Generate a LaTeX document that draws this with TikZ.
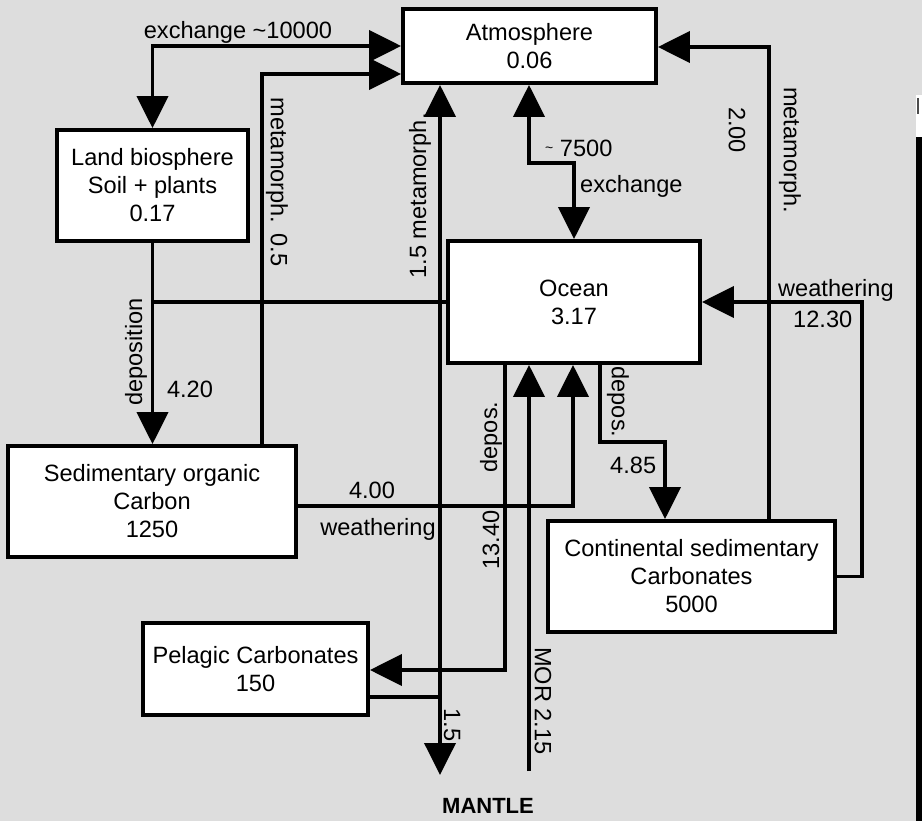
\documentclass[tikz,border=0pt]{standalone}
\usepackage{fontspec}
\setmainfont{Liberation Sans}
\usetikzlibrary{arrows.meta}
\begin{document}
\begin{tikzpicture}[x=1pt,y=-1pt,
  font=\fontsize{23.6}{28}\selectfont,
  box/.style={draw, fill=white, line width=3.8pt, align=center, inner sep=0pt},
  conn/.style={line width=3.8pt},
  arr/.style={conn, -{Triangle[length=32pt,width=31pt]}},
  both/.style={conn, {Triangle[length=32pt,width=31pt]}-{Triangle[length=32pt,width=31pt]}},
  lbl/.style={inner sep=0pt},
  up/.style={lbl, rotate=90},
  down/.style={lbl, rotate=-90}]
% background and frame artefacts
\fill[fill={rgb,255:red,221;green,221;blue,221}] (0,0) rectangle (922,821);
\useasboundingbox (0,0) rectangle (922,821);
\fill[white] (916,95) rectangle (922,137);
\fill[black!70] (917,98) rectangle (919,114);
\fill[black] (916,137) rectangle (922,821);

% boxes
\node[box, minimum width=253pt, minimum height=74pt] (atm) at (529.5,46) {Atmosphere\\0.06};
\node[box, minimum width=191pt, minimum height=111pt] (land) at (152.5,185.5) {Land biosphere\\Soil + plants\\0.17};
\node[box, minimum width=252pt, minimum height=122pt] (ocean) at (574,302) {Ocean\\3.17};
\node[box, minimum width=288pt, minimum height=111pt] (sed) at (152,501.5) {Sedimentary organic\\Carbon\\1250};
\node[box, minimum width=287pt, minimum height=111pt] (cont) at (691.5,576.5) {Continental sedimentary\\Carbonates\\5000};
\node[box, minimum width=225pt, minimum height=92pt] (pel) at (255.5,669) {Pelagic Carbonates\\150};

% bend points
\coordinate (c2) at (262,74);
\coordinate (c4) at (573,506);
\coordinate (c5) at (505,670);
\coordinate (c6) at (529,771);
\coordinate (c7a) at (529,163);
\coordinate (c7b) at (574,163);
\coordinate (c8) at (769,47);
\coordinate (c9a) at (862,576.5);
\coordinate (c9b) at (862,302);
\coordinate (c10a) at (600,442);
\coordinate (c10b) at (665,442);
\coordinate (c12) at (440,697);
\coordinate (c11) at (440,775);

% connectors
\draw[both] (land.north) |- (atm.west);
\draw[arr] (sed.north -| c2) |- (atm.west |- c2);
\draw[arr] (land.south) -- (land.south |- sed.north);
\draw[conn] (ocean.west) -- (ocean.west -| land.south);
\draw[arr] (sed.east |- c4) -| (ocean.south -| c4);
\draw[arr] (ocean.south -| c5) |- (pel.east |- c5);
\draw[arr] (c6) -- (ocean.south -| c6);
\draw[both] (atm.south -| c7a) -- (c7a) -- (c7b) -- (ocean.north -| c7b);
\draw[arr] (cont.north -| c8) |- (atm.east |- c8);
\draw[arr] (cont.east |- c9a) -- (c9a) -- (c9b) -- (ocean.east |- c9b);
\draw[arr] (ocean.south -| c10a) -- (c10a) -- (c10b) -- (cont.north -| c10b);
\draw[conn] (pel.east |- c12) -- (c12);
\draw[arr] (c12) -- (atm.south -| c12);
\draw[arr] (c12) -- (c11);

% labels
\node[lbl, anchor=base] (l1) at (238,39) {exchange \textasciitilde10000};
\node[down] (l2) at (277,182) {metamorph.\hspace{10pt}0.5};
\node[up] (l3) at (420,196) {1.5 metamorph.};
\node[lbl, anchor=base west] (l4) at (545,157) {\raisebox{4pt}{\fontsize{14}{14}\selectfont\textasciitilde} 7500};
\node[lbl, anchor=base west] (l5) at (580,193) {exchange};
\node[down] (l6) at (737,130) {2.00};
\node[down] (l7) at (790,150) {metamorph.};
\node[lbl, anchor=base west] (l8) at (778,297) {weathering};
\node[lbl, anchor=base west] (l9) at (793,327) {12.30};
\node[up] (l10) at (136,352) {deposition};
\node[lbl, anchor=base] (l11) at (190,398) {4.20};
\node[lbl, anchor=base] (l12) at (372,498) {4.00};
\node[lbl, anchor=base] (l13) at (378,535) {weathering};
\node[up] (l14) at (491,437) {depos.};
\node[up] (l15) at (491,540) {13.40};
\node[down] (l16) at (618,402) {depos.};
\node[lbl, anchor=base west] (l17) at (610,473) {4.85};
\node[down] (l18) at (543,701) {MOR 2.15};
\node[down] (l19) at (452,725) {1.5};
\node[lbl, anchor=base, font=\bfseries\fontsize{22}{26}\selectfont] (l20) at (488,813) {MANTLE};
\end{tikzpicture}
\end{document}
